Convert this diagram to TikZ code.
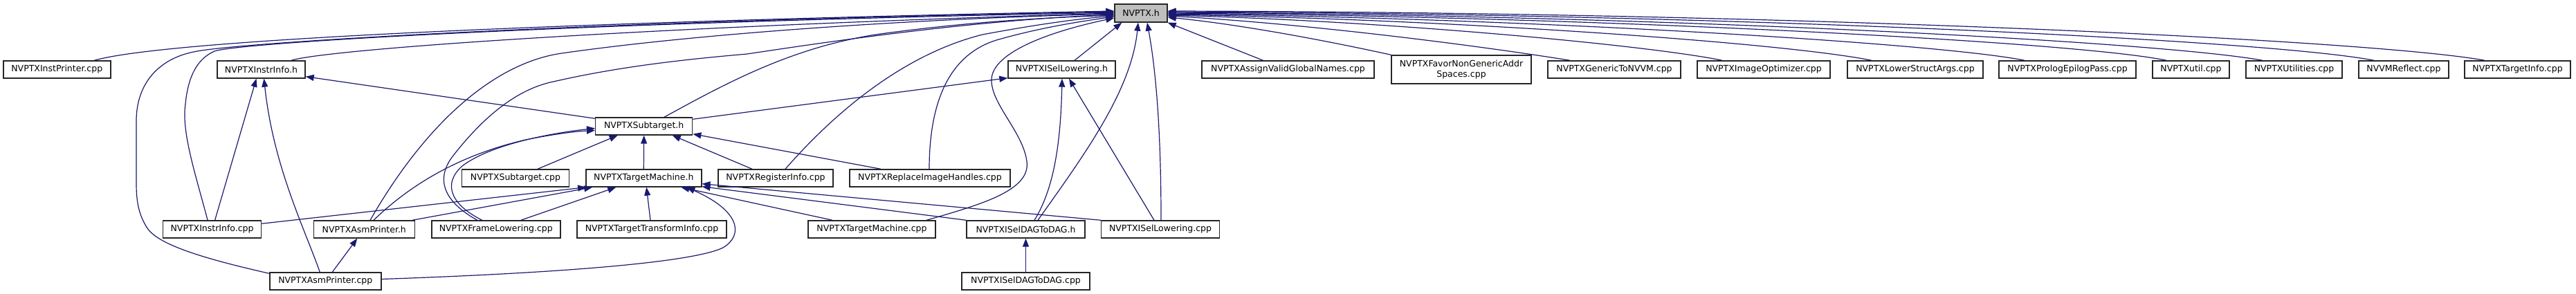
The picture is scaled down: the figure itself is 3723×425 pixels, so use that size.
\documentclass[tikz,border=0pt]{standalone}
\usepackage{fontspec}
\setmainfont{DejaVu Sans}
\usetikzlibrary{arrows.meta}
\definecolor{edgecol}{HTML}{191970}
\definecolor{hdrfill}{HTML}{BFBFBF}
\begin{document}
\begin{tikzpicture}[x=1pt,y=-1pt,
  box/.style={draw=black!85, line width=1.4pt, fill=white, inner sep=0pt,
    minimum height=25pt, font=\fontsize{12.5}{14.5}\selectfont, anchor=center},
  edge/.style={draw=edgecol, line width=1.2pt, -{Triangle[length=12pt,width=9pt]}}]
\useasboundingbox (0,0) rectangle (3723,425);

% nodes
\node[box, minimum width=76pt, minimum height=26pt, fill=hdrfill] (nvptx) at (1649,19) {NVPTX.h};
\node[box, minimum width=155pt] (instprinter) at (82.3,100.5) {NVPTXInstPrinter.cpp};
\node[box, minimum width=127pt] (instrinfoh) at (377.5,100.5) {NVPTXInstrInfo.h};
\node[box, minimum width=155pt] (isellowh) at (1534.5,100.5) {NVPTXISelLowering.h};
\node[box, minimum width=249pt] (assign) at (1861.5,100.5) {NVPTXAssignValidGlobalNames.cpp};
\node[box, minimum width=202pt, minimum height=41pt, align=center] (favor) at (2112,100.5) {NVPTXFavorNonGenericAddr\\Spaces.cpp};
\node[box, minimum width=192pt] (generic) at (2333,100.5) {NVPTXGenericToNVVM.cpp};
\node[box, minimum width=192pt] (imageopt) at (2549,100.5) {NVPTXImageOptimizer.cpp};
\node[box, minimum width=196pt] (lowerstruct) at (2768,100.5) {NVPTXLowerStructArgs.cpp};
\node[box, minimum width=198pt] (prolog) at (2988,100.5) {NVPTXPrologEpilogPass.cpp};
\node[box, minimum width=111pt] (util) at (3166.5,100.5) {NVPTXutil.cpp};
\node[box, minimum width=139pt] (utilities) at (3315.5,100.5) {NVPTXUtilities.cpp};
\node[box, minimum width=130pt] (nvvmreflect) at (3474,100.5) {NVVMReflect.cpp};
\node[box, minimum width=153pt] (targetinfo) at (3638.5,100.5) {NVPTXTargetInfo.cpp};

\node[box, minimum width=140pt] (subtargeth) at (930.7,182.5) {NVPTXSubtarget.h};

\node[box, minimum width=155pt] (subtargetcpp) at (745,257.5) {NVPTXSubtarget.cpp};
\node[box, minimum width=167pt] (tmh) at (930.3,257.5) {NVPTXTargetMachine.h};
\node[box, minimum width=166pt] (reginfo) at (1121,257.5) {NVPTXRegisterInfo.cpp};
\node[box, minimum width=232pt] (replace) at (1344,257.5) {NVPTXReplaceImageHandles.cpp};

\node[box, minimum width=142pt] (instrinfocpp) at (306.6,331.5) {NVPTXInstrInfo.cpp};
\node[box, minimum width=146pt] (asmh) at (526.3,331.5) {NVPTXAsmPrinter.h};
\node[box, minimum width=186pt] (frame) at (716.8,331.5) {NVPTXFrameLowering.cpp};
\node[box, minimum width=216pt] (tti) at (942,331.5) {NVPTXTargetTransformInfo.cpp};
\node[box, minimum width=184pt] (tmcpp) at (1260,331.5) {NVPTXTargetMachine.cpp};
\node[box, minimum width=171pt] (iseldagh) at (1482.5,331.5) {NVPTXISelDAGToDAG.h};
\node[box, minimum width=171pt] (isellowcpp) at (1677,331.5) {NVPTXISelLowering.cpp};

\node[box, minimum width=161pt] (asmcpp) at (470.3,406.5) {NVPTXAsmPrinter.cpp};
\node[box, minimum width=185pt] (iseldagcpp) at (1482.5,406.5) {NVPTXISelDAGToDAG.cpp};

% edges into NVPTX.h from the left
\draw[edge] ([xshift=54pt]instprinter.north) .. controls (250,55) and (900,30) .. ([yshift=3pt]nvptx.west);
\draw[edge] ([yshift=-2pt]asmcpp.north west) .. controls (300,375) and (230,355) .. (213,330)
  .. controls (200,310) and (197,290) .. (197,265) -- (197,175)
  .. controls (197,120) and (230,85) .. (280,75)
  .. controls (330,63) and (800,32) .. ([yshift=2pt]nvptx.west);
\draw[edge] ([xshift=-6.5pt]instrinfocpp.north) .. controls (282,250) and (262,190) .. (268,150)
  .. controls (272,110) and (285,85) .. (310,74)
  .. controls (345,62) and (800,34) .. ([yshift=1pt]nvptx.west);
\draw[edge] ([xshift=43.5pt]instrinfoh.north) .. controls (470,72) and (900,40) .. (nvptx.west);
\draw[edge] ([xshift=8.7pt]asmh.north) .. controls (620,170) and (720,90) .. (812,77)
  .. controls (1000,50) and (1300,28) .. ([yshift=-1pt]nvptx.west);
\draw[edge] ([xshift=-27pt]frame.north) .. controls (630,285) and (635,250) .. (655,225)
  .. controls (690,180) and (740,130) .. (800,118)
  .. controls (900,95) and (1000,85) .. (1080,78)
  .. controls (1200,60) and (1400,30) .. ([yshift=-2pt]nvptx.west);
\draw[edge] ([xshift=29.3pt]subtargeth.north) .. controls (1050,120) and (1150,65) .. (1280,48)
  .. controls (1400,32) and (1500,26) .. ([yshift=-3pt]nvptx.west);
\draw[edge] ([xshift=14pt]reginfo.north) .. controls (1200,170) and (1300,80) .. (1420,50)
  .. controls (1500,35) and (1560,27) .. ([yshift=-4pt]nvptx.west);
\draw[edge] ([xshift=-1pt]replace.north) .. controls (1343,150) and (1370,80) .. (1440,58)
  .. controls (1510,38) and (1570,30) .. ([yshift=-5pt]nvptx.west);
\draw[edge] ([xshift=79pt]tmcpp.north) .. controls (1420,295) and (1490,275) .. (1484,233)
  .. controls (1478,190) and (1432,150) .. (1433,115)
  .. controls (1434,75) and (1520,45) .. ([yshift=-7pt]nvptx.west);

% edges into NVPTX.h from below
\draw[edge] ([xshift=18.5pt]isellowh.north) -- ([xshift=11pt]nvptx.south west);
\draw[edge] ([xshift=17.5pt]iseldagh.north) .. controls (1570,220) and (1635,130) .. ([xshift=-4pt]nvptx.south);
\draw[edge] ([xshift=1pt]isellowcpp.north) .. controls (1678,200) and (1672,110) .. ([xshift=9pt]nvptx.south);

% edges into NVPTX.h from the right
\draw[edge] ([xshift=-36pt]assign.north) -- (nvptx.south east);
\draw[edge] (favor.north west) .. controls (1900,55) and (1780,34) .. ([yshift=-6pt]nvptx.east);
\draw[edge] ([xshift=-64pt]generic.north) .. controls (2150,68) and (1900,35) .. ([yshift=-4pt]nvptx.east);
\draw[edge] ([xshift=-60pt]imageopt.north) .. controls (2380,65) and (2000,30) .. ([yshift=-3pt]nvptx.east);
\draw[edge] ([xshift=-63pt]lowerstruct.north) .. controls (2580,62) and (2100,28) .. ([yshift=-2pt]nvptx.east);
\draw[edge] ([xshift=-62pt]prolog.north) .. controls (2800,62) and (2200,26) .. ([yshift=-1pt]nvptx.east);
\draw[edge] ([xshift=-35.5pt]util.north) .. controls (3000,60) and (2300,24) .. (nvptx.east);
\draw[edge] ([xshift=-45.5pt]utilities.north) .. controls (3120,60) and (2400,22) .. ([yshift=1pt]nvptx.east);
\draw[edge] ([xshift=-43pt]nvvmreflect.north) .. controls (3280,58) and (2500,20) .. ([yshift=2pt]nvptx.east);
\draw[edge] ([xshift=-47.5pt]targetinfo.north) .. controls (3430,58) and (2600,18) .. ([yshift=3pt]nvptx.east);

% NVPTXInstrInfo.h
\draw[edge] ([yshift=-2pt]subtargeth.north west) -- ([yshift=3pt]instrinfoh.south east);
\draw[edge] ([xshift=4pt]instrinfocpp.north) -- ([xshift=-7pt]instrinfoh.south);
\draw[edge] ([xshift=-8pt]asmcpp.north) .. controls (440,330) and (395,240) .. ([xshift=4pt]instrinfoh.south);

% NVPTXISelLowering.h
\draw[edge] ([yshift=-3pt]subtargeth.north east) -- ([yshift=1pt]isellowh.south west);
\draw[edge] ([xshift=12.5pt]iseldagh.north) .. controls (1525,270) and (1533,200) .. ([xshift=0.5pt]isellowh.south);
\draw[edge] ([xshift=-9pt]isellowcpp.north) -- ([xshift=10.5pt]isellowh.south);

% NVPTXSubtarget.h
\draw[edge] (tmh.north) -- (subtargeth.south);
\draw[edge] ([xshift=32pt]subtargetcpp.north) -- ([xshift=-38pt]subtargeth.south);
\draw[edge] ([xshift=-34pt]reginfo.north) -- ([xshift=41pt]subtargeth.south);
\draw[edge] ([xshift=-71pt]replace.north) -- ([yshift=2pt]subtargeth.south east);
\draw[edge] ([xshift=13.7pt]asmh.north) .. controls (590,270) and (660,225) .. (760,202)
  .. controls (800,194) and (830,190) .. ([yshift=-6pt]subtargeth.west);
\draw[edge] ([xshift=-20pt]frame.north) .. controls (650,295) and (640,265) .. (668,240)
  .. controls (710,208) and (800,192) .. ([yshift=-3pt]subtargeth.west);

% NVPTXTargetMachine.h
\draw[edge] ([yshift=-5pt]instrinfocpp.north east) -- ([xshift=1pt]tmh.south west);
\draw[edge] ([xshift=-4pt]asmh.north east) -- ([xshift=10pt]tmh.south west);
\draw[edge] ([xshift=36pt]frame.north) -- ([xshift=-40pt]tmh.south);
\draw[edge] ([xshift=-2pt]tti.north) -- ([xshift=4pt]tmh.south);
\draw[edge] ([yshift=3pt]asmcpp.east) .. controls (800,395) and (1000,380) .. (1045,358)
  .. controls (1075,340) and (1070,305) .. ([xshift=62pt]tmh.south);
\draw[edge] ([xshift=-57pt]tmcpp.north) -- ([xshift=54pt]tmh.south);
\draw[edge] (iseldagh.north west) -- ([yshift=1pt]tmh.south east);
\draw[edge] (isellowcpp.north west) -- ([yshift=5pt]tmh.south east);

% others
\draw[edge] ([xshift=10pt]asmcpp.north) -- ([xshift=-10pt]asmh.south);
\draw[edge] (iseldagcpp.north) -- (iseldagh.south);
\end{tikzpicture}
\end{document}
